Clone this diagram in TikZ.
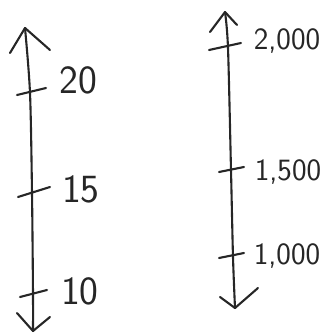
\documentclass[tikz,border=0pt]{standalone}
\usepackage{fontspec}
\begin{document}
\begin{tikzpicture}[x=1pt,y=-1pt,
  ink/.style={draw=black!85, line width=2.1pt, line cap=round, line join=round},
  lbl/.style={text=black!85, font=\sffamily\fontsize{40}{40}\selectfont, inner sep=0pt},
  lblr/.style={text=black!85, font=\sffamily\fontsize{31}{31}\selectfont, inner sep=0pt}]
\useasboundingbox (0,0) rectangle (328,333);
% left axis
\coordinate (LT) at (25,28);
\coordinate (LB) at (33,331);
\draw[ink] plot[smooth] coordinates {(25,28) (30,93) (32,193) (33,295) (33,331)};
\draw[ink] (LT) -- (10,53);
\draw[ink] (LT) -- (50,50);
\draw[ink] (LB) -- (17,313);
\draw[ink] (LB) -- (50,317);
\coordinate (t20a) at (17,95); \coordinate (t20b) at (46,88);
\coordinate (t15a) at (18,197); \coordinate (t15b) at (50,187);
\coordinate (t10a) at (20,297); \coordinate (t10b) at (47,290);
\draw[ink] (t20a) -- (t20b);
\draw[ink] (t15a) -- (t15b);
\draw[ink] (t10a) -- (t10b);
\node[lbl] (n20) at (78,80) {20};
\node[lbl] (n15) at (81,189) {15};
\node[lbl] (n10) at (80,291) {10};
% right axis
\coordinate (RT) at (225,12);
\coordinate (RB) at (235,308);
\draw[ink] plot[smooth] coordinates {(225,12) (228,48) (231,170) (233,257) (235,308)};
\draw[ink] (RT) -- (210,32);
\draw[ink] (RT) -- (237,25);
\draw[ink] (RB) -- (220,297);
\draw[ink] (RB) -- (258,288);
\coordinate (t2a) at (209,50); \coordinate (t2b) at (241,43);
\coordinate (t1a) at (219,172); \coordinate (t1b) at (244,167);
\coordinate (t0a) at (219,258); \coordinate (t0b) at (244,253);
\draw[ink] (t2a) -- (t2b);
\draw[ink] (t1a) -- (t1b);
\draw[ink] (t0a) -- (t0b);
\node[lblr] (n2000) at (287,41) {2,000};
\node[lblr] (n1500) at (288,172) {1,500};
\node[lblr] (n1000) at (287,256) {1,000};
\end{tikzpicture}
\end{document}
